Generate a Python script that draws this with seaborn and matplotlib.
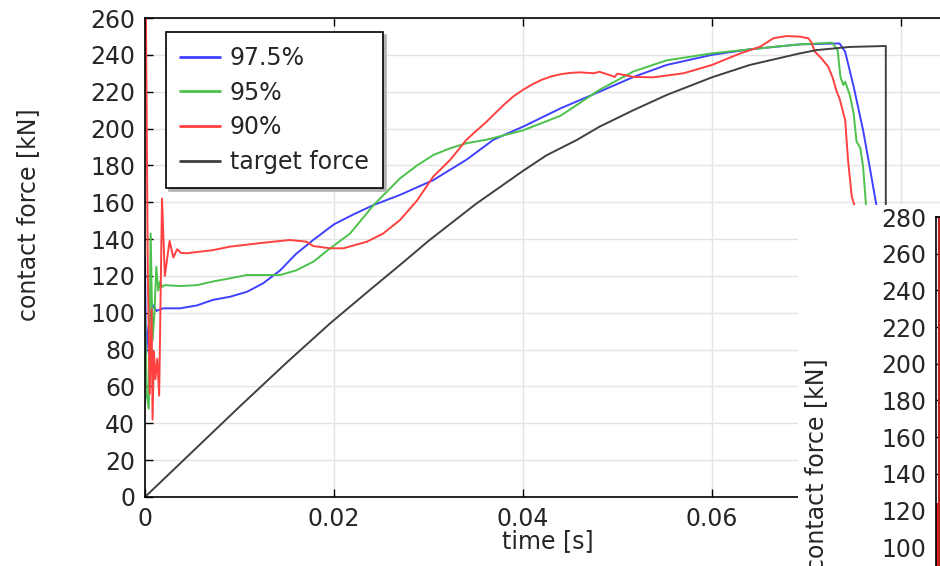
import numpy as np
import pandas as pd
import matplotlib
matplotlib.use("Agg")
import matplotlib.pyplot as plt
import seaborn as sns
from matplotlib.patches import Rectangle

sns.set_theme(style="whitegrid")
plt.rcParams['font.family'] = ['DejaVu Sans']
plt.rcParams['font.size'] = 17

# 97.5 %
t_blue = [0, 0.0001, 0.0003, 0.0006, 0.0009, 0.0012, 0.0019, 0.0037, 0.0055, 0.0072,
          0.009, 0.0108, 0.0125, 0.0143, 0.016, 0.0178, 0.02, 0.0221, 0.0242, 0.027,
          0.0305, 0.034, 0.0369, 0.04, 0.044, 0.0481, 0.0517, 0.0552, 0.06, 0.064,
          0.0693, 0.0735, 0.0741, 0.075, 0.076, 0.0767, 0.0774, 0.078]
v_blue = [130, 76, 90, 100, 104, 101, 102.4, 102.4, 104, 107,
          108.7, 111.4, 116, 123, 132, 139.5, 148, 153.5, 158.5, 164,
          172, 183, 194, 201, 211, 220, 228, 234.5, 240, 243,
          245.7, 246.2, 241.7, 222.7, 199, 179, 158.5, 140]

# 95 %
t_green = [0, 0.0002, 0.0004, 0.0006, 0.0008, 0.001, 0.0012, 0.0014, 0.0016, 0.0018,
           0.0021, 0.0037, 0.0055, 0.0072, 0.009, 0.0108, 0.0125, 0.0143, 0.016, 0.0178,
           0.0196, 0.0217, 0.0242, 0.027, 0.0288, 0.0305, 0.0323, 0.034, 0.0362, 0.04,
           0.044, 0.0481, 0.0517, 0.0552, 0.06, 0.064, 0.0693, 0.0727, 0.0733, 0.0736,
           0.0739, 0.0741, 0.0746, 0.075, 0.0753, 0.0757, 0.076, 0.0763, 0.0768]
v_green = [100, 55, 48, 143, 85, 100, 125, 112, 117, 114,
           115, 114.5, 115, 117, 118.7, 120.5, 120.5, 120.5, 123, 127.7,
           135, 143, 158.5, 173, 180, 185.6, 189.3, 192, 194, 199,
           207, 221, 231, 237, 240.8, 243, 245.7, 246.6, 242.6, 228,
           223.6, 225.4, 218, 208, 193, 189.4, 179.3, 158.5, 140]

# 90 %
t_red = [0, 0.0001, 0.0003, 0.0005, 0.0007, 0.0008, 0.00095, 0.0011, 0.0013, 0.0015,
         0.0018, 0.0021, 0.0026, 0.003, 0.0034, 0.0038, 0.0044, 0.0072, 0.009, 0.0125,
         0.0153, 0.0171, 0.0178, 0.0196, 0.021, 0.0235, 0.0252, 0.027, 0.0288, 0.0305,
         0.0323, 0.034, 0.035, 0.036, 0.037, 0.038, 0.039, 0.04, 0.041, 0.042,
         0.043, 0.044, 0.045, 0.046, 0.0475, 0.0481, 0.0492, 0.0497, 0.05, 0.0517,
         0.0538, 0.057, 0.06, 0.063, 0.0651, 0.0665, 0.0679, 0.0693, 0.0702, 0.0705,
         0.0709, 0.0716, 0.0723, 0.0728, 0.0732, 0.0735, 0.0741, 0.0744, 0.0748, 0.0751,
         0.0755]
v_red = [290, 262, 120, 56, 102, 42, 79, 64, 75, 55,
         162, 120, 139, 130, 134.5, 132.5, 132.3, 134, 135.9, 138,
         139.5, 138.6, 136.2, 135, 135, 138.6, 143, 150.4, 161, 173.9,
         183, 193.8, 198.5, 203, 208, 213, 217.5, 221, 224, 226.5,
         228.3, 229.5, 230.2, 230.5, 230, 230.8, 229, 228, 229.8, 228,
         227.8, 230, 234.5, 240.8, 244.4, 249, 250.2, 249.9, 249, 247,
         241.7, 238, 233.6, 227.3, 220, 216.4, 204.6, 183, 163, 158,
         140]

# target force
t_target = [0, 0.005, 0.01, 0.015, 0.0196, 0.0238, 0.027, 0.03, 0.0325, 0.035,
            0.0375, 0.04, 0.0425, 0.0457, 0.0481, 0.0517, 0.0552, 0.06, 0.064, 0.0693,
            0.0711, 0.0746, 0.0784, 0.0784]
v_target = [0, 24.5, 49, 73, 94.3, 112.4, 126, 139, 149, 159,
            168, 177, 185.5, 193.8, 201, 210, 218.2, 227.8, 234.5, 240.8,
            242.6, 244.3, 244.8, 0]

series_names = ["97.5%", "95%", "90%", "target force"]
series_colors = ["#4040ff", "#4cc24c", "#ff4040", "#404040"]

# second window peeking in at bottom right
inset_line_t = [0.0001, 0.0001]
inset_line_v = [20, 290]
inset_fill_t = [0, 0.0002]
inset_fill_top = [124, 124]
inset_yticks = list(range(20, 281, 20))

xticks = [0, 0.02, 0.04, 0.06, 0.08]
xticklabels = ["0", "0.02", "0.04", "0.06", "0.08"]
yticks = list(range(0, 261, 20))

W, H = 940, 566
fig = plt.figure(figsize=(W / 100, H / 100), dpi=100)
fig.patch.set_facecolor("white")

ax = fig.add_axes([145 / W, (H - 497) / H, 806 / W, 479 / H])
ax.set_facecolor("white")
data = [(t_blue, v_blue), (t_green, v_green), (t_red, v_red), (t_target, v_target)]
for (t, v), name, col in zip(data, series_names, series_colors):
    sns.lineplot(x=t, y=v, ax=ax, color=col, lw=1.4, sort=False, estimator=None, label=name)

ax.set_xlim(0, 0.0853)
ax.set_ylim(0, 260)
ax.set_xticks(xticks)
ax.set_xticklabels(xticklabels)
ax.set_yticks(yticks)
ax.grid(True, color="#e4e4e4", lw=1)
for s in ax.spines.values():
    s.set_color("black")
    s.set_linewidth(1.2)
ax.tick_params(which="major", direction="in", length=6, width=1, color="black",
               top=True, right=True, bottom=True, left=True, labelsize=17, pad=7)
ax.set_xlabel("time [s]", fontsize=17)
ax.set_ylabel("contact force [kN]", fontsize=17)
ax.xaxis.set_label_coords(0.5, -0.068)
ax.yaxis.set_label_coords(-0.13, 0.589)

leg = ax.legend(loc="upper left", bbox_to_anchor=(0.026, 0.971), borderaxespad=0,
                frameon=True, fancybox=False, edgecolor="black", framealpha=1,
                fontsize=17, handlelength=1.7, handletextpad=0.4, labelspacing=0.45,
                borderpad=0.6, shadow={"color": "0.7", "alpha": 1})
leg.get_frame().set_linewidth(1.2)
for ln in leg.get_lines():
    ln.set_linewidth(2)

# white window covering the lower right corner
fig.add_artist(Rectangle((798 / W, 0), 1, (H - 205) / H, transform=fig.transFigure,
                         facecolor="white", edgecolor="none", zorder=5))

ax2 = fig.add_axes([936 / W, (H - 694) / H, 0.3, 477 / H])
ax2.set_zorder(10)
ax2.set_facecolor("white")
sns.lineplot(x=inset_line_t, y=inset_line_v, ax=ax2, color="#c02020", lw=1.5,
             sort=False, estimator=None)
ax2.fill_between(inset_fill_t, 20, inset_fill_top, color="#e82020", lw=0)
ax2.set_xlim(0, 0.01)
ax2.set_ylim(20, 280)
ax2.set_yticks(inset_yticks)
ax2.grid(False)
for s in ax2.spines.values():
    s.set_color("black")
    s.set_linewidth(1.2)
ax2.tick_params(which="major", direction="in", length=6, width=1, color="black",
                left=True, labelsize=17, pad=7, labelbottom=False)
ax2.set_ylabel("contact force [kN]", fontsize=17)
ax2.yaxis.set_label_coords(-0.383, 0.48)

fig.savefig("out.png", dpi=100)
